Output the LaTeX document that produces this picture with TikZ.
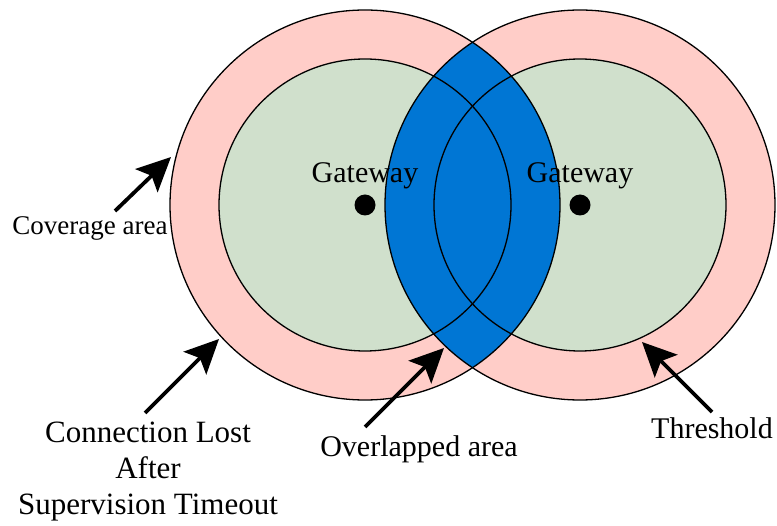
\documentclass[tikz,border=0pt]{standalone}
\usepackage{fontspec}
\setmainfont{Liberation Serif}
\usetikzlibrary{arrows.meta}
\definecolor{ringpink}{RGB}{255,205,200}
\definecolor{innergreen}{RGB}{208,224,204}
\definecolor{lensblue}{RGB}{0,118,212}
\begin{document}
\begin{tikzpicture}[x=1pt,y=-1pt,
  ring/.style={draw=black,line width=1.3pt},
  lbl/.style={font=\fontsize{30}{36}\selectfont,inner sep=0pt,align=center},
  pointer/.style={line width=3.8pt,-{Stealth[length=34pt,width=32pt,inset=7pt]}}]
\useasboundingbox (0,0) rectangle (777,526);
\coordinate (cL) at (365,205);
\coordinate (cR) at (580,205);
% fills
\fill[ringpink] (cL) circle[radius=195pt];
\fill[ringpink] (cR) circle[radius=195pt];
\fill[innergreen] (cL) circle[radius=146pt];
\fill[innergreen] (cR) circle[radius=146pt];
\begin{scope}
  \clip (cL) circle[radius=195pt];
  \fill[lensblue] (cR) circle[radius=195pt];
\end{scope}
% outlines
\draw[ring] (cL) circle[radius=195pt];
\draw[ring] (cR) circle[radius=195pt];
\draw[ring] (cL) circle[radius=146pt];
\draw[ring] (cR) circle[radius=146pt];
% gateways
\fill (cL) circle[radius=10.5pt];
\fill (cR) circle[radius=10.5pt];
\node[lbl,anchor=base] (gwL) at (365,183) {Gateway};
\node[lbl,anchor=base] (gwR) at (580,183) {Gateway};
% labels
\node[lbl,anchor=base,font=\fontsize{27}{33}\selectfont] (cov) at (90,235) {Coverage area};
\node[lbl,font=\fontsize{31}{36}\selectfont] (lost) at (148,472) {Connection Lost\\After\\Supervision Timeout};
\node[lbl,anchor=base] (ovl) at (419,457) {Overlapped area};
\node[lbl,anchor=base] (thr) at (712,439) {Threshold};
% arrows
\coordinate (covT) at (115,211);
\coordinate (covH) at (171,157);
\coordinate (lostT) at (145,413);
\coordinate (lostH) at (219,339);
\coordinate (ovlT) at (365,427);
\coordinate (ovlH) at (444,348);
\coordinate (thrT) at (712,412);
\coordinate (thrH) at (642,342);
\draw[pointer] (covT) -- (covH);
\draw[pointer] (lostT) -- (lostH);
\draw[pointer] (ovlT) -- (ovlH);
\draw[pointer] (thrT) -- (thrH);
\end{tikzpicture}
\end{document}
